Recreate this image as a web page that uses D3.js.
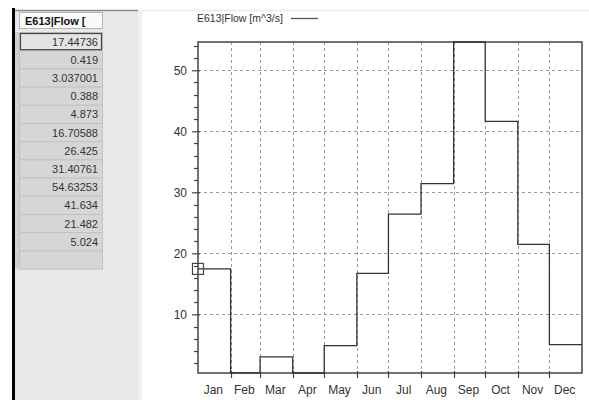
<!DOCTYPE html>
<html><head><meta charset="utf-8">
<script src="https://cdn.jsdelivr.net/npm/d3@7"></script>
<style>
html,body{margin:0;padding:0;background:#fff;}
svg{display:block;font-family:"Liberation Sans",Arial,sans-serif;}
</style></head>
<body>
<svg id="c" width="589" height="400"></svg>
<script>
const months = ["Jan","Feb","Mar","Apr","May","Jun","Jul","Aug","Sep","Oct","Nov","Dec"];
const flowValues = [17.44736,0.419,3.037001,0.388,4.873,16.70588,26.425,31.40761,54.63253,41.634,21.482,5.024];
const yTicks = [10,20,30,40,50];
const seriesName = "E613|Flow [m^3/s]";
const tableHeader = "E613|Flow [";

const svg = d3.select("#c");

// ---- left table panel ----
svg.append("rect").attr("x",15).attr("y",10).attr("width",123).attr("height",390).attr("fill","#e8e8e8");
svg.append("rect").attr("x",138).attr("y",10).attr("width",4).attr("height",390).attr("fill","#f0f0f0");
svg.append("rect").attr("x",12).attr("y",8).attr("width",3).attr("height",392).attr("fill","#000");
svg.append("line").attr("x1",15).attr("x2",138).attr("y1",10.5).attr("y2",10.5).attr("stroke","#8a8a8a").attr("stroke-width",1.5);
svg.append("line").attr("x1",142).attr("x2",589).attr("y1",10.5).attr("y2",10.5).attr("stroke","#ececec").attr("stroke-width",1.5);

const rowH = 18.2, rowTop = 32, cellX = 19, cellW = 83;
// header
svg.append("rect").attr("x",cellX+0.5).attr("y",12.5).attr("width",cellW).attr("height",16)
  .attr("fill","#fafafa").attr("stroke","#777").attr("stroke-dasharray","1,1");
svg.append("text").attr("x",cellX+6).attr("y",24.5).attr("font-size",11).attr("font-weight","bold")
  .attr("fill","#111").text(tableHeader);

const rows = flowValues.map(v => String(v)).concat([""]);
const rg = svg.append("g");
rg.selectAll("rect.g").data(rows).join("rect").attr("class","g")
  .attr("x",15).attr("y",(d,i)=>rowTop+i*rowH).attr("width",4).attr("height",rowH).attr("fill","#d0d0d0");
rg.selectAll("rect.c").data(rows).join("rect").attr("class","c")
  .attr("x",cellX+0.5).attr("y",(d,i)=>rowTop+i*rowH+0.5).attr("width",cellW).attr("height",rowH)
  .attr("fill",(d,i)=>i===0?"#e4e4e4":"#d6d6d6").attr("stroke","#c2c2c2");
rg.append("rect").attr("x",cellX+1.5).attr("y",rowTop+1.5).attr("width",cellW-2).attr("height",rowH-2)
  .attr("fill","none").attr("stroke","#444").attr("stroke-width",1.2);
rg.selectAll("text").data(rows).join("text")
  .attr("x",cellX+cellW-4).attr("y",(d,i)=>rowTop+i*rowH+13.5).attr("text-anchor","end")
  .attr("font-size",11).attr("fill","#333").text(d=>d);

// ---- chart ----
const x0 = 198, x1 = 582, yTop = 42, yBot = 373;
const monthStarts = d3.range(13).map(i => new Date(Date.UTC(2001,i,1)));
const x = d3.scaleUtc().domain([monthStarts[0], monthStarts[12]]).range([x0,x1]);
const y = d3.scaleLinear().domain(d3.extent(flowValues)).range([yBot, yTop]);

const grid = svg.append("g").attr("stroke","#9a9a9a").attr("stroke-dasharray","3,3").attr("stroke-width",1);
grid.selectAll("line.v").data(monthStarts.slice(1,12)).join("line").attr("class","v")
  .attr("x1",d=>Math.round(x(d))+0.5).attr("x2",d=>Math.round(x(d))+0.5).attr("y1",yTop).attr("y2",yBot);
grid.selectAll("line.h").data(yTicks).join("line").attr("class","h")
  .attr("x1",x0).attr("x2",x1).attr("y1",d=>Math.round(y(d))+0.5).attr("y2",d=>Math.round(y(d))+0.5);

// y axis
const yAxis = d3.axisLeft(y).tickValues(yTicks).tickSize(6).tickPadding(5);
const ya = svg.append("g").attr("transform",`translate(${x0},0)`).call(yAxis);
ya.select(".domain").remove();
ya.selectAll(".tick line").attr("stroke","#444").attr("stroke-width",1.2).attr("x2",-6).attr("x1",2);
ya.selectAll(".tick text").attr("font-size",12).attr("fill","#333").attr("font-family","Liberation Sans, Arial, sans-serif");
const minor = d3.range(2, d3.max(flowValues), 2).filter(v => v % 10 !== 0);
svg.append("g").selectAll("line").data(minor).join("line")
  .attr("x1",x0-4).attr("x2",x0).attr("y1",d=>Math.round(y(d))+0.5).attr("y2",d=>Math.round(y(d))+0.5)
  .attr("stroke","#444").attr("stroke-width",1.2);

// x axis ticks and labels
const xa = svg.append("g");
xa.selectAll("line").data(monthStarts.slice(1,12)).join("line")
  .attr("x1",d=>Math.round(x(d))+0.5).attr("x2",d=>Math.round(x(d))+0.5).attr("y1",yBot-2).attr("y2",yBot+5)
  .attr("stroke","#444").attr("stroke-width",1.2);
xa.selectAll("text").data(months).join("text")
  .attr("x",(d,i)=>(x(monthStarts[i])+x(monthStarts[i+1]))/2 - 1)
  .attr("y",yBot+21).attr("text-anchor","middle").attr("font-size",12).attr("fill","#333").text(d=>d);

// frame
svg.append("rect").attr("x",x0).attr("y",yTop).attr("width",x1-x0).attr("height",yBot-yTop)
  .attr("fill","none").attr("stroke","#444").attr("stroke-width",1.5);

// step line
const pts = flowValues.map((v,i)=>({d:monthStarts[i], v}));
pts.push({d:monthStarts[12], v:flowValues[11]});
const line = d3.line().x(p=>x(p.d)).y(p=>y(p.v)).curve(d3.curveStepAfter);
svg.append("path").datum(pts).attr("d",line).attr("fill","none").attr("stroke","#333").attr("stroke-width",1.3);

// selected marker
svg.append("rect").attr("x",x(pts[0].d)-5.5).attr("y",y(pts[0].v)-5.5).attr("width",11).attr("height",11)
  .attr("fill","none").attr("stroke","#444").attr("stroke-width",1.2);

// legend
svg.append("text").attr("x",197).attr("y",22).attr("font-size",10.5).attr("fill","#333").text(seriesName);
svg.append("line").attr("x1",291).attr("x2",318).attr("y1",18.5).attr("y2",18.5).attr("stroke","#555").attr("stroke-width",1.3);
</script>
</body></html>
